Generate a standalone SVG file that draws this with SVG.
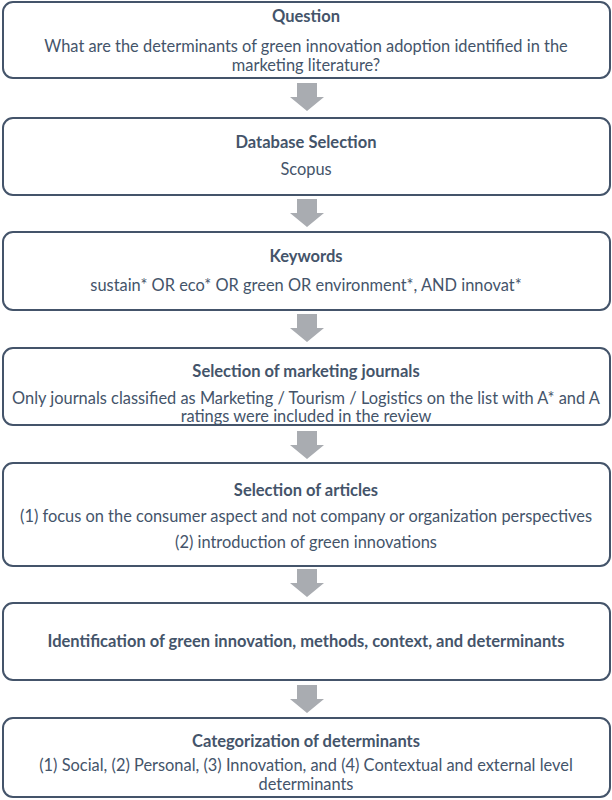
<svg xmlns="http://www.w3.org/2000/svg" width="612" height="800" viewBox="0 0 612 800">
  <style>
    .box { fill: #ffffff; stroke: #44546a; stroke-width: 2; }
    .arrow { fill: #a9acb1; }
    text { font-family: Lato, "Open Sans", "Liberation Sans", sans-serif; fill: #44546a; text-anchor: middle; }
    .title { font-size: 16.5px; font-weight: bold; }
    .body { font-size: 16.4px; }
  </style>
  <defs>
    <path id="down" d="M -10 0 H 10 V 14 H 17 L 0 28 L -17 14 H -10 Z"/>
  </defs>

  <g id="connectors">
    <use href="#down" class="arrow" x="307" y="83"/>
    <use href="#down" class="arrow" x="307" y="199"/>
    <use href="#down" class="arrow" x="307" y="314"/>
    <use href="#down" class="arrow" x="307" y="431"/>
    <use href="#down" class="arrow" x="307" y="569"/>
    <use href="#down" class="arrow" x="307" y="685"/>
  </g>

  <g id="question">
    <rect class="box" x="3" y="2" width="607" height="76" rx="10"/>
    <text class="title" x="306" y="22">Question</text>
    <text class="body" x="306" y="52">What are the determinants of green innovation adoption identified in the</text>
    <text class="body" x="306" y="71">marketing literature?</text>
  </g>

  <g id="database">
    <rect class="box" x="3" y="118" width="607" height="77" rx="10"/>
    <text class="title" x="306" y="148">Database Selection</text>
    <text class="body" x="306" y="175">Scopus</text>
  </g>

  <g id="keywords">
    <rect class="box" x="3" y="232" width="607" height="78" rx="10"/>
    <text class="title" x="306" y="262">Keywords</text>
    <text class="body" x="306" y="291">sustain* OR eco* OR green OR environment*, AND innovat*</text>
  </g>

  <g id="journals">
    <rect class="box" x="3" y="348" width="607" height="77" rx="10"/>
    <text class="title" x="306" y="377">Selection of marketing journals</text>
    <text class="body" x="306" y="404">Only journals classified as Marketing / Tourism / Logistics on the list with A* and A</text>
    <text class="body" x="306" y="422">ratings were included in the review</text>
  </g>

  <g id="articles">
    <rect class="box" x="3" y="463" width="607" height="103" rx="10"/>
    <text class="title" x="306" y="496">Selection of articles</text>
    <text class="body" x="306" y="522">(1) focus on the consumer aspect and not company or organization perspectives</text>
    <text class="body" x="306" y="548">(2) introduction of green innovations</text>
  </g>

  <g id="identification">
    <rect class="box" x="3" y="603" width="607" height="77" rx="10"/>
    <text class="title" x="306" y="647">Identification of green innovation, methods, context, and determinants</text>
  </g>

  <g id="categorization">
    <rect class="box" x="3" y="718" width="607" height="79" rx="10"/>
    <text class="title" x="306" y="747">Categorization of determinants</text>
    <text class="body" x="306" y="771">(1) Social, (2) Personal, (3) Innovation, and (4) Contextual and external level</text>
    <text class="body" x="306" y="790">determinants</text>
  </g>
</svg>
